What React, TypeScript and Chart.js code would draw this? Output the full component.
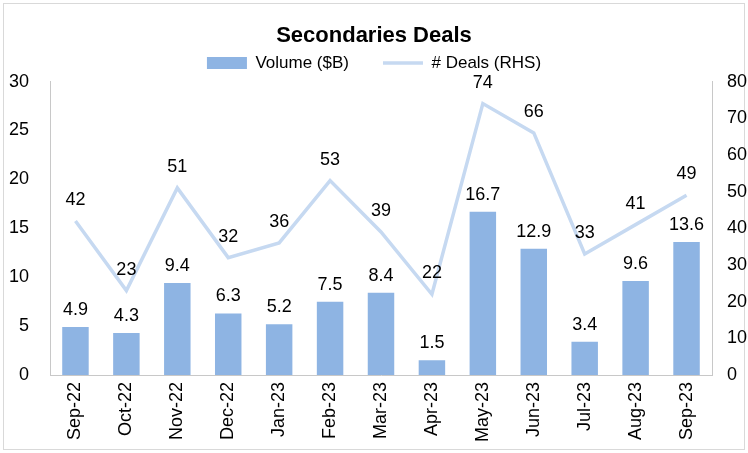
import React, { useEffect, useRef } from "react";
import { Chart, registerables } from "chart.js";

Chart.register(...registerables);

const categories = [
  "Sep-22", "Oct-22", "Nov-22", "Dec-22", "Jan-23", "Feb-23", "Mar-23",
  "Apr-23", "May-23", "Jun-23", "Jul-23", "Aug-23", "Sep-23",
];
const volume = [4.9, 4.3, 9.4, 6.3, 5.2, 7.5, 8.4, 1.5, 16.7, 12.9, 3.4, 9.6, 13.6];
const deals = [42, 23, 51, 32, 36, 53, 39, 22, 74, 66, 33, 41, 49];

const leftAxis = { min: 0, max: 30, step: 5 };
const rightAxis = { min: 0, max: 80, step: 10 };

const FONT = '"Liberation Sans", Arial, Helvetica, sans-serif';
const BAR_COLOR = "#8EB4E3";
const LINE_COLOR = "#C6D9F1";
const AXIS_COLOR = "#C8C8C8";

const frame = {
  id: "frame",
  beforeDraw(chart: any) {
    const ctx = chart.ctx;
    ctx.save();
    ctx.fillStyle = "#fff";
    ctx.fillRect(0, 0, chart.width, chart.height);
    ctx.strokeStyle = "#D9D9D9";
    ctx.lineWidth = 1;
    ctx.strokeRect(3.5, 3.5, chart.width - 7, chart.height - 7);
    ctx.restore();
  },
};

const valueLabels = {
  id: "valueLabels",
  afterDatasetsDraw(chart: any) {
    const ctx = chart.ctx;
    ctx.save();
    ctx.font = `18px ${FONT}`;
    ctx.fillStyle = "#000";
    ctx.textAlign = "center";
    ctx.textBaseline = "middle";
    chart.data.datasets.forEach((ds: any, i: number) => {
      const meta = chart.getDatasetMeta(i);
      const isBar = meta.type === "bar";
      meta.data.forEach((el: any, j: number) => {
        const v = ds.data[j] as number;
        const text = isBar ? v.toFixed(1) : String(v);
        const off = isBar ? 17 : 21;
        ctx.fillText(text, el.x, el.y - off);
      });
    });
    ctx.restore();
  },
};

export default function App() {
  const ref = useRef<HTMLCanvasElement | null>(null);

  useEffect(() => {
    if (!ref.current) return;
    const chart = new Chart(ref.current, {
      type: "bar",
      data: {
        labels: categories,
        datasets: [
          {
            type: "bar",
            label: "Volume ($B)",
            data: volume,
            backgroundColor: BAR_COLOR,
            borderWidth: 0,
            categoryPercentage: 1,
            barPercentage: 0.52,
            yAxisID: "y",
          },
          {
            type: "line",
            label: "# Deals (RHS)",
            data: deals,
            borderColor: LINE_COLOR,
            backgroundColor: LINE_COLOR,
            borderWidth: 3.5,
            pointRadius: 0,
            pointHoverRadius: 0,
            tension: 0,
            yAxisID: "y1",
          },
        ] as any,
      },
      options: {
        animation: false,
        responsive: true,
        maintainAspectRatio: false,
        layout: { padding: 0 },
        plugins: {
          tooltip: { enabled: false },
          title: {
            display: true,
            text: "Secondaries Deals",
            color: "#000",
            font: { family: FONT, size: 22, weight: "bold" },
            padding: { top: 22.8, bottom: -28.6 },
          },
          legend: {
            display: true,
            position: "top",
            labels: {
              color: "#000",
              font: { family: FONT, size: 17 },
              usePointStyle: true,
              pointStyleWidth: 40,
              boxHeight: 12,
              padding: 34,
              generateLabels: (c: any) => {
                const items = (Chart.defaults.plugins.legend.labels as any).generateLabels(c);
                items.forEach((it: any, i: number) => {
                  if (i === 0) {
                    it.pointStyle = "rect";
                    it.fillStyle = BAR_COLOR;
                    it.strokeStyle = BAR_COLOR;
                    it.lineWidth = 0;
                  } else {
                    it.pointStyle = "line";
                    it.fillStyle = LINE_COLOR;
                    it.strokeStyle = LINE_COLOR;
                    it.lineWidth = 3.5;
                  }
                });
                return items;
              },
            },
          },
        },
        scales: {
          x: {
            offset: true,
            grid: { display: false, drawTicks: false },
            border: { display: true, color: AXIS_COLOR, width: 1 },
            ticks: {
              color: "#000",
              font: { family: FONT, size: 18 },
              minRotation: 90,
              maxRotation: 90,
              autoSkip: false,
              padding: 7,
            },
            afterFit: (s: any) => {
              s.height = 78;
            },
          },
          y: {
            position: "left",
            min: leftAxis.min,
            max: leftAxis.max,
            grid: { display: false, drawTicks: false },
            border: { display: true, color: AXIS_COLOR, width: 1 },
            ticks: {
              stepSize: leftAxis.step,
              color: "#000",
              font: { family: FONT, size: 18 },
              padding: 21,
            },
            afterFit: (s: any) => {
              s.width = 50;
            },
          },
          y1: {
            position: "right",
            min: rightAxis.min,
            max: rightAxis.max,
            grid: { display: false, drawTicks: false },
            border: { display: true, color: AXIS_COLOR, width: 1 },
            ticks: {
              stepSize: rightAxis.step,
              color: "#000",
              font: { family: FONT, size: 18 },
              padding: 15,
            },
            afterFit: (s: any) => {
              s.width = 36;
            },
          },
        },
      } as any,
      plugins: [frame, valueLabels],
    });
    return () => chart.destroy();
  }, []);

  return (
    <div style={{ position: "fixed", left: 0, top: 0, width: 748, height: 453 }}>
      <canvas ref={ref} />
    </div>
  );
}
